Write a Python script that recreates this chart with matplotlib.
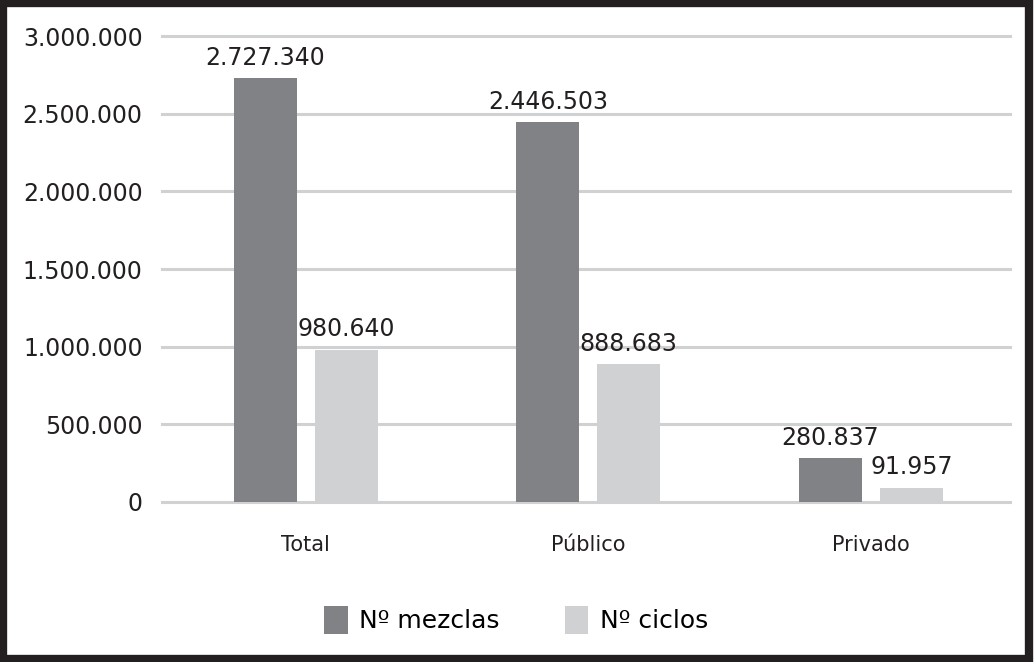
import matplotlib
matplotlib.use('Agg')
import matplotlib.pyplot as plt
import numpy as np
from matplotlib.patches import Rectangle

# data
categories = ["Total", "Público", "Privado"]
mezclas = [2727340, 2446503, 280837]
ciclos = [980640, 888683, 91957]
series_names = ["Nº mezclas", "Nº ciclos"]
yticks = [0, 500000, 1000000, 1500000, 2000000, 2500000, 3000000]

dark = "#818286"
light = "#d0d1d3"
frame = "#231f20"

plt.rcParams['font.family'] = ['DejaVu Sans']


def fmt(v):
    return f"{v:,}".replace(",", ".")


fig = plt.figure(figsize=(10.34, 6.62), dpi=100)
ax = fig.add_axes([0.1567, 0.2417, 0.8201, 0.7039])

x = np.arange(len(categories))
w = 0.223
off = 0.143
b1 = ax.bar(x - off, mezclas, w, color=dark, label=series_names[0], zorder=3)
b2 = ax.bar(x + off, ciclos, w, color=light, label=series_names[1], zorder=3)

for bars, vals in ((b1, mezclas), (b2, ciclos)):
    for rect, v in zip(bars, vals):
        ax.annotate(fmt(v), (rect.get_x() + rect.get_width() / 2, rect.get_height()),
                    xytext=(0, 6), textcoords='offset points',
                    ha='center', va='bottom', fontsize=17, color=frame)

ax.set_xlim(-0.508, 2.492)
ax.set_ylim(0, 3000000)
ax.set_yticks(yticks)
ax.set_yticklabels([fmt(t) for t in yticks])
ax.set_xticks(x)
ax.set_xticklabels(categories)
ax.tick_params(axis='y', length=0, pad=14, labelsize=17, labelcolor=frame)
ax.tick_params(axis='x', length=0, pad=24, labelsize=15, labelcolor=frame)
for t in yticks:
    ax.axhline(t, color=light, linewidth=2.2, zorder=0, clip_on=False)
for s in ax.spines.values():
    s.set_visible(False)

fig.legend(loc='center', bbox_to_anchor=(516 / 1034, 1 - 620 / 662), ncol=2,
           frameon=False, fontsize=18, handlelength=0.95, handleheight=1.3,
           handletextpad=0.45, columnspacing=2.6)

# dark frame around the picture
fig.patches.append(Rectangle((0.0025, 0.005), 0.993, 0.99, transform=fig.transFigure,
                             fill=False, edgecolor=frame, linewidth=6))

fig.savefig("out.png", dpi=100, facecolor='white')
